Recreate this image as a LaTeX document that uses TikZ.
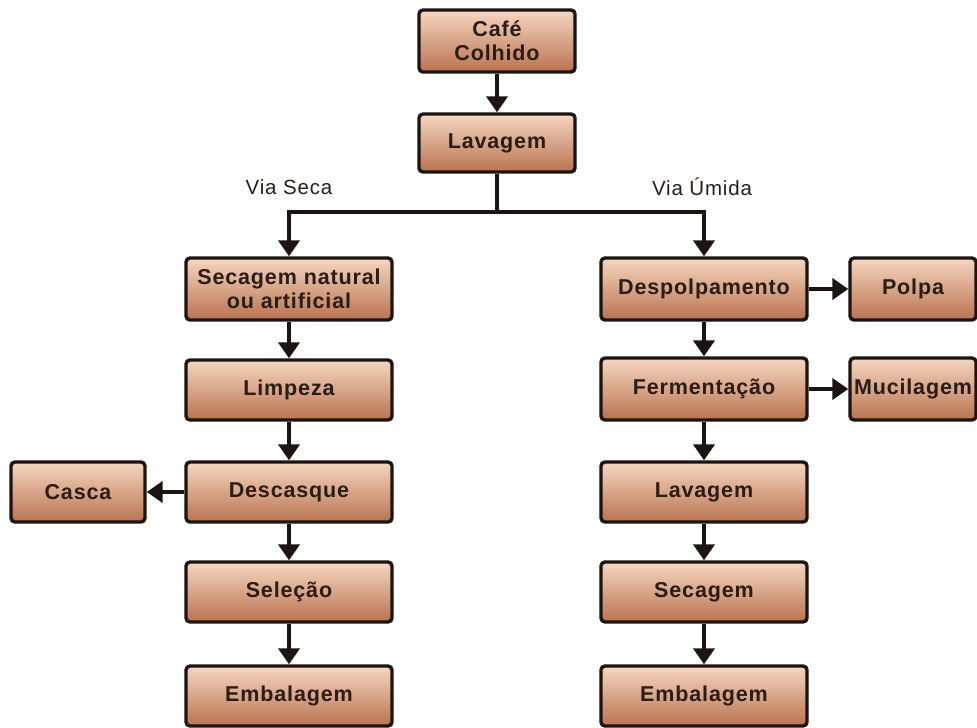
\documentclass[tikz,border=0pt]{standalone}
\usepackage{fontspec}
\setmainfont{Liberation Sans}
\usetikzlibrary{arrows.meta}
\definecolor{boxtop}{RGB}{246,214,192}
\definecolor{boxbot}{RGB}{185,115,80}
\definecolor{boxline}{RGB}{28,20,16}
\definecolor{txt}{RGB}{42,28,22}
\begin{document}
\begin{tikzpicture}[x=1pt,y=-1pt,
  stepbox/.style={draw=boxline,line width=3.4pt,rounded corners=4pt,top color=boxtop,bottom color=boxbot,
    minimum width=206pt,minimum height=60pt,align=center,font=\bfseries\fontsize{21.5}{24}\selectfont\addfontfeatures{LetterSpace=4},text=txt,inner sep=2pt},
  sidebox/.style={stepbox,minimum width=134pt},
  conn/.style={line width=4pt,draw=boxline,-{Triangle[length=16pt,width=21pt]}},
  lbl/.style={font=\fontsize{20.5}{24}\selectfont\addfontfeatures{LetterSpace=4},text=txt}]
\useasboundingbox (0,0) rectangle (977,728);
\node[stepbox,minimum width=156pt,minimum height=62pt] (cafe) at (497,41) {Café\\Colhido};
\node[stepbox,minimum width=156pt,minimum height=58pt] (lav) at (497,143) {Lavagem};
\node[stepbox,minimum height=62pt] (sec) at (289,289) {Secagem natural\\ou artificial};
\node[stepbox] (limp) at (289,390) {Limpeza};
\node[stepbox] (desc) at (289,492) {Descasque};
\node[stepbox] (sel) at (289,592) {Seleção};
\node[stepbox] (emb1) at (289,696) {Embalagem};
\node[sidebox] (casca) at (78,492) {Casca};
\node[stepbox,minimum height=62pt] (desp) at (704,289) {Despolpamento};
\node[stepbox,minimum height=62pt] (ferm) at (704,389) {Fermentação};
\node[stepbox] (lav2) at (704,492) {Lavagem};
\node[stepbox] (secg) at (704,592) {Secagem};
\node[stepbox] (emb2) at (704,696) {Embalagem};
\node[sidebox,minimum width=126pt,minimum height=62pt] (polpa) at (913,289) {Polpa};
\node[sidebox,minimum width=126pt,minimum height=62pt] (muci) at (913,389) {Mucilagem};
\node[lbl] (vseca) at (289,187) {Via Seca};
\node[lbl] (vumida) at (702,187) {Via Úmida};
\coordinate (split) at (497,212);
\draw[conn] (cafe) -- (lav);
\draw[line width=4pt,draw=boxline] (lav.south) -- (split);
\draw[conn] (split) -| (sec.north);
\draw[conn] (split) -| (desp.north);
\draw[conn] (sec) -- (limp);
\draw[conn] (limp) -- (desc);
\draw[conn] (desc) -- (sel);
\draw[conn] (sel) -- (emb1);
\draw[conn] (desc) -- (casca);
\draw[conn] (desp) -- (ferm);
\draw[conn] (ferm) -- (lav2);
\draw[conn] (lav2) -- (secg);
\draw[conn] (secg) -- (emb2);
\draw[conn] (desp) -- (polpa);
\draw[conn] (ferm) -- (muci);
\end{tikzpicture}
\end{document}
